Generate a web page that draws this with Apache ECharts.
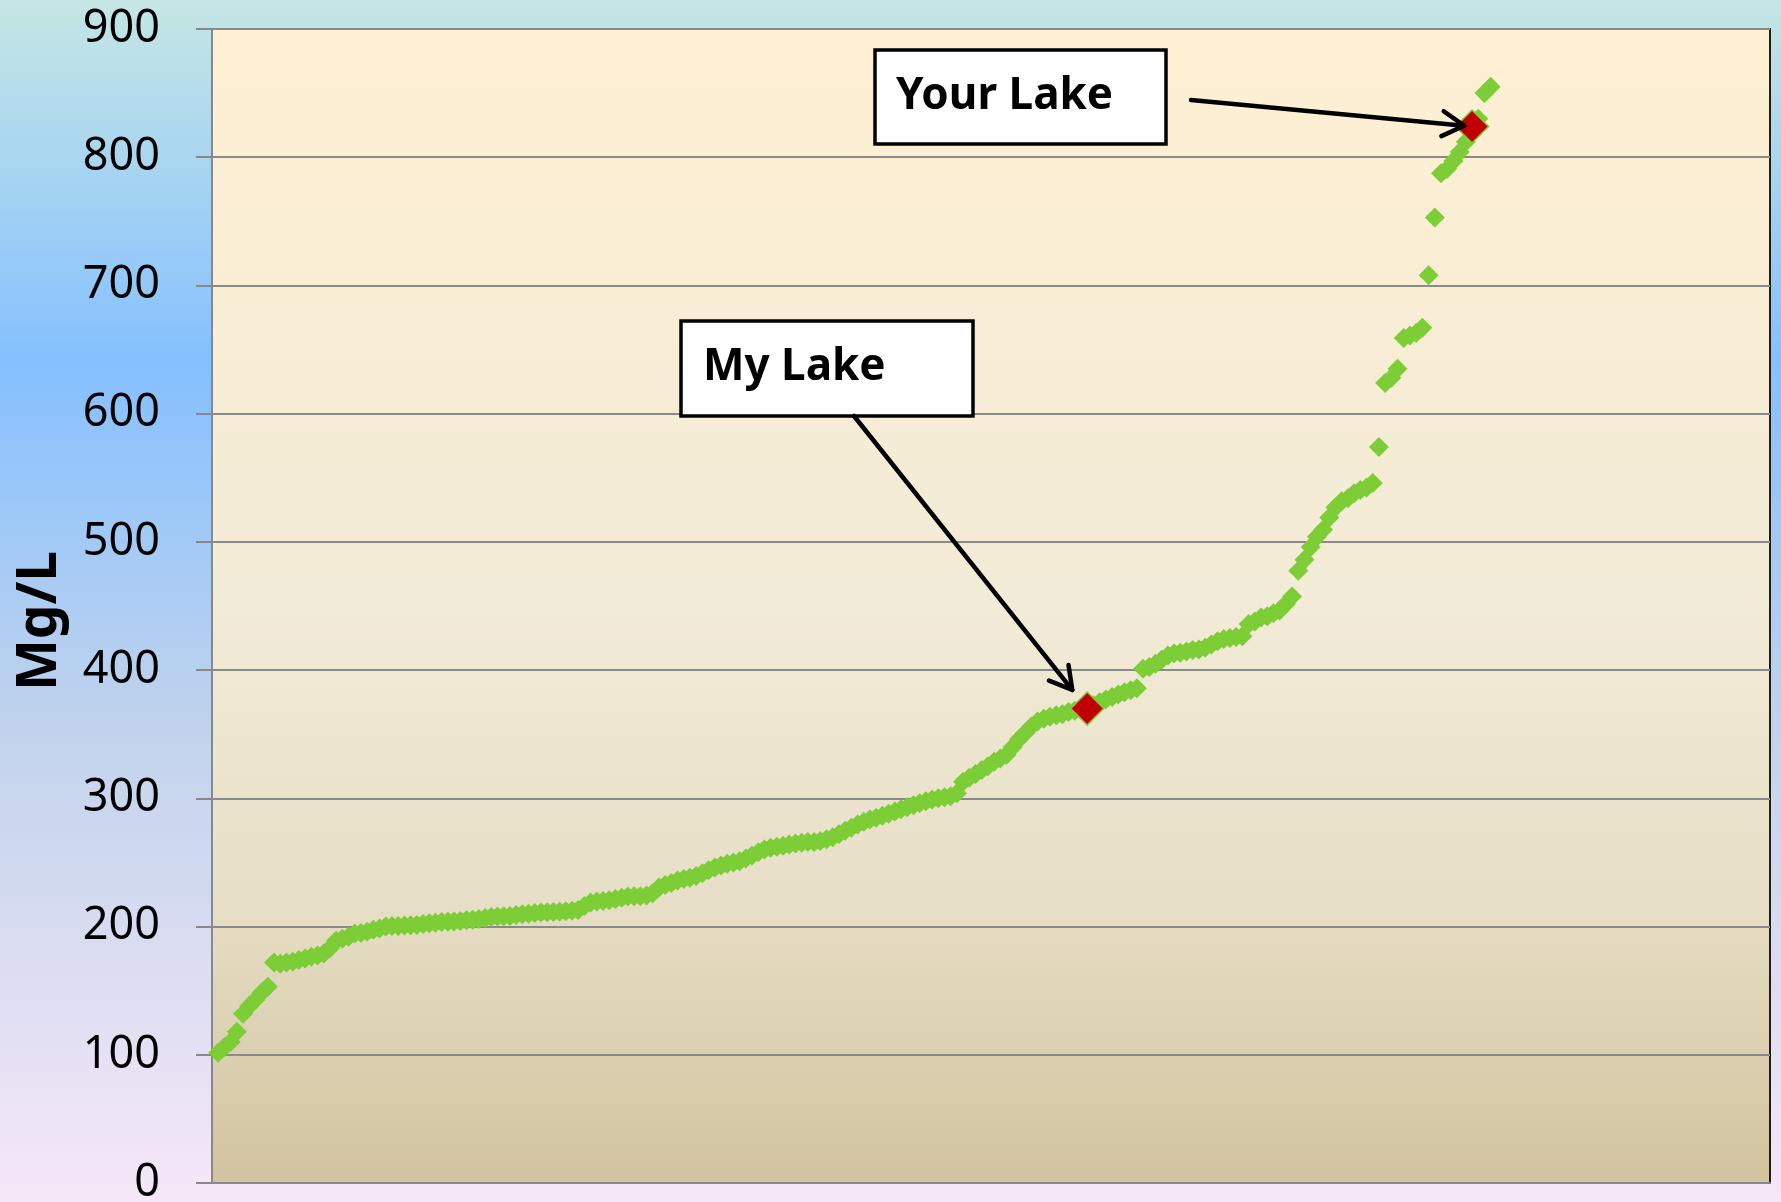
<!DOCTYPE html>
<html>
<head>
<meta charset="utf-8">
<script src="https://cdn.jsdelivr.net/npm/echarts@6/dist/echarts.min.js"></script>
<style>
  html, body { margin: 0; padding: 0; }
  #chart { width: 1781px; height: 1202px; }
</style>
</head>
<body>
<div id="chart"></div>
<script>
// Mg/L per lake, sorted low -> high
const mgValues = [
  101.5, 106, 110, 118, 132, 138, 143, 148.5, 153, 172,
  171, 172, 172.5, 174, 175, 176.5, 177.5, 179, 183, 189,
  190.5, 192, 194.5, 195, 196, 197.5, 198.5, 200, 200.5, 200.5,
  200.8, 201, 201.3, 202, 202.6, 203, 203.5, 203.8, 204, 204.4,
  205, 205.3, 205.9, 206.7, 207.5, 207.9, 208.1, 208.3, 209, 209.5,
  210, 210.5, 211, 211.1, 211.3, 211.5, 212, 212.4, 213, 216,
  218.8, 219.5, 220, 220.5, 221.5, 222.5, 223.5, 223.7, 223.7, 224.3,
  226, 230.5, 232.5, 234, 236, 237, 238, 239.5, 241.5, 244,
  246, 247.7, 249, 250, 251, 253, 255.5, 258, 260, 261.5,
  262.3, 263, 264, 264.7, 265.4, 266, 266, 266.7, 268, 269.7,
  272, 274.7, 277, 279.6, 281.7, 283.4, 284.8, 286.4, 288, 289.8,
  291.4, 293, 294.6, 296.2, 297.8, 299.1, 300, 300.9, 301.7, 304,
  313, 316, 319, 322, 325, 328.5, 331, 334, 340, 346,
  351, 356, 360, 362, 363.7, 364.7, 365.6, 367.3, 368.4, 369.2,
  370, 372.5, 375, 377, 379, 381, 382.7, 384.2, 385.8, 401,
  402.5, 405, 408, 411.3, 413.1, 413.5, 414.6, 415.6, 416, 417.5,
  420, 422.5, 424.3, 425.1, 425.8, 426.5, 436, 438, 441, 442,
  444.3, 446.5, 451.5, 457.5, 477.5, 486, 496, 504, 509.5, 519,
  527, 531.7, 534, 538, 540.5, 542.5, 546, 574, 624, 628,
  635, 659, 661, 663, 667, 708, 753, 787.5, 791, 797,
  804, 812, 824, 830, 850, 855
];

// highlighted lakes (index into mgValues)
const lakeNames = ['My Lake', 'Your Lake'];
const lakeIndex = [140, 202];

// axis
const yMin = 0, yMax = 900, yStep = 100;
const xMax = 251;

const FONT = '"Noto Sans", "Open Sans", sans-serif';

const chart = echarts.init(document.getElementById('chart'));

const option = {
  backgroundColor: {
    type: 'linear', x: 0, y: 0, x2: 0, y2: 1,
    colorStops: [
      { offset: 0, color: '#c5e6e4' },
      { offset: 0.3, color: '#85c0ff' },
      { offset: 0.6, color: '#c0d3ec' },
      { offset: 1, color: '#f6e7f8' }
    ]
  },
  animation: false,
  grid: {
    left: 212, right: 11, top: 29, bottom: 19,
    containLabel: false,
    outerBoundsMode: 'none',
    show: true,
    borderColor: '#1e1e1e',
    borderWidth: 2,
    backgroundColor: {
      type: 'linear', x: 0, y: 0, x2: 0, y2: 1,
      colorStops: [
        { offset: 0, color: '#fff0d3' },
        { offset: 0.5, color: '#f2ebd7' },
        { offset: 0.75, color: '#e7dfc7' },
        { offset: 1, color: '#d1c39e' }
      ]
    }
  },
  xAxis: {
    type: 'value',
    min: 0,
    max: xMax,
    axisLine: { show: true, lineStyle: { color: '#888', width: 2 } },
    axisTick: { show: false },
    axisLabel: { show: false },
    splitLine: { show: false }
  },
  yAxis: {
    type: 'value',
    min: yMin,
    max: yMax,
    interval: yStep,
    axisLine: { show: true, lineStyle: { color: '#888', width: 2 } },
    axisTick: { show: true, inside: false, length: 16, lineStyle: { color: '#888', width: 2 } },
    axisLabel: { margin: 52, fontSize: 45, color: '#000', fontFamily: FONT },
    splitLine: { show: true, lineStyle: { color: '#8a8a8a', width: 2 } }
  },
  series: [
    {
      name: 'Lakes',
      type: 'scatter',
      symbol: 'diamond',
      symbolSize: 20,
      itemStyle: { color: '#7ccd36', opacity: 1 },
      data: mgValues.map((v, i) => [i + 1, v]),
      z: 2
    },
    {
      name: 'Highlight',
      type: 'scatter',
      symbol: 'diamond',
      symbolSize: 33,
      itemStyle: { color: '#c00000', borderColor: '#7ccd36', borderWidth: 1.5, opacity: 1 },
      data: lakeIndex.map(i => [i + 1, mgValues[i]]),
      z: 3
    }
  ]
};

chart.setOption(option);

// annotation boxes and arrows
const boxes = [
  { x: 681, y: 321, w: 292, h: 95, textX: 703, from: [854, 416], gap: 24 },
  { x: 875, y: 50, w: 291, h: 94, textX: 896, from: [1191, 100], gap: 8 }
];

function arrowHead(tip, from, len, ang) {
  const a = Math.atan2(tip[1] - from[1], tip[0] - from[0]);
  return [
    [tip[0] - len * Math.cos(a - ang), tip[1] - len * Math.sin(a - ang)],
    tip,
    [tip[0] - len * Math.cos(a + ang), tip[1] - len * Math.sin(a + ang)]
  ];
}

const graphics = [];
boxes.forEach((b, k) => {
  const idx = lakeIndex[k];
  const c = chart.convertToPixel({ gridIndex: 0 }, [idx + 1, mgValues[idx]]);
  const dx = c[0] - b.from[0], dy = c[1] - b.from[1];
  const len = Math.sqrt(dx * dx + dy * dy);
  const tip = [c[0] - dx / len * b.gap, c[1] - dy / len * b.gap];

  graphics.push({
    type: 'rect',
    shape: { x: b.x, y: b.y, width: b.w, height: b.h },
    style: { fill: '#fff', stroke: '#000', lineWidth: 3.5 },
    z: 10
  });
  graphics.push({
    type: 'text',
    x: b.textX,
    y: b.y + b.h / 2 - 1,
    style: {
      text: lakeNames[k],
      font: 'bold 44px ' + FONT,
      fill: '#000',
      verticalAlign: 'middle'
    },
    z: 11
  });
  graphics.push({
    type: 'polyline',
    shape: { points: [b.from, tip] },
    style: { stroke: '#000', lineWidth: 4.5, fill: null, lineCap: 'round' },
    z: 10
  });
  graphics.push({
    type: 'polyline',
    shape: { points: arrowHead(tip, b.from, 25, Math.PI / 6) },
    style: { stroke: '#000', lineWidth: 4.5, fill: null, lineCap: 'round', lineJoin: 'round' },
    z: 10
  });
});

// axis title
graphics.push({
  type: 'text',
  x: 40,
  y: 621,
  rotation: Math.PI / 2,
  style: {
    text: 'Mg/L',
    font: 'bold 55px ' + FONT,
    fill: '#000',
    align: 'center',
    verticalAlign: 'middle'
  },
  z: 10
});

chart.setOption({ graphic: graphics });
window.addEventListener('resize', chart.resize);
</script>
</body>
</html>
